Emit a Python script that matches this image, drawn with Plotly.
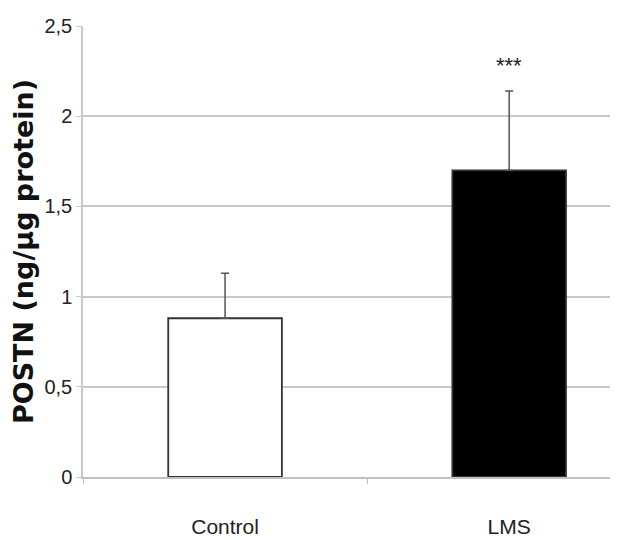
import plotly.graph_objects as go

categories = ["Control", "LMS"]
means = [0.88, 1.70]
sem_upper = [0.25, 0.44]
bar_fill = ["white", "black"]
significance = ["", "***"]
tick_vals = [0, 0.5, 1, 1.5, 2, 2.5]
tick_text = ["0", "0,5", "1", "1,5", "2", "2,5"]

TICK_FONT = "Liberation Sans Narrow, Liberation Sans, Arial, sans-serif"

fig = go.Figure()
fig.add_trace(go.Bar(
    x=categories, y=means, width=0.4,
    marker=dict(color=bar_fill, line=dict(color="#333333", width=1.8)),
    error_y=dict(type="data", symmetric=False, array=sem_upper, arrayminus=[0, 0],
                 color="#555555", thickness=1.5, width=4),
    showlegend=False,
))

for c, m, e, s in zip(categories, means, sem_upper, significance):
    if s:
        fig.add_annotation(x=c, y=m + e + 0.14, text=s, showarrow=False,
                           font=dict(family=TICK_FONT, size=22, color="#222222"),
                           yanchor="middle")

fig.update_layout(
    width=610, height=532,
    margin=dict(l=75, r=0, t=18, b=63),
    plot_bgcolor="white", paper_bgcolor="white",
    xaxis=dict(
        range=[-0.5, 1.383], type="category",
        showgrid=False, showline=True, linecolor="#c0c0c0", linewidth=1.5,
        ticks="outside", tickson="boundaries", ticklen=5, tickcolor="#c0c0c0",
        ticklabelstandoff=30,
        tickfont=dict(family=TICK_FONT, size=21, color="#222222"),
        fixedrange=True,
    ),
    yaxis=dict(
        range=[0, 2.5], tickvals=tick_vals, ticktext=tick_text,
        showgrid=True, gridcolor="#c8c8c8", gridwidth=1.5,
        showline=True, linecolor="#c8c8c8", linewidth=1.5,
        ticks="outside", ticklen=5, tickcolor="#c8c8c8",
        zeroline=False,
        tickfont=dict(family=TICK_FONT, size=20, color="#222222"),
        title=dict(text="POSTN (ng/µg protein)", standoff=14,
                   font=dict(family="DejaVu Sans", size=27, color="#111111", weight="bold")),
    ),
)

fig.write_html("out.html")
